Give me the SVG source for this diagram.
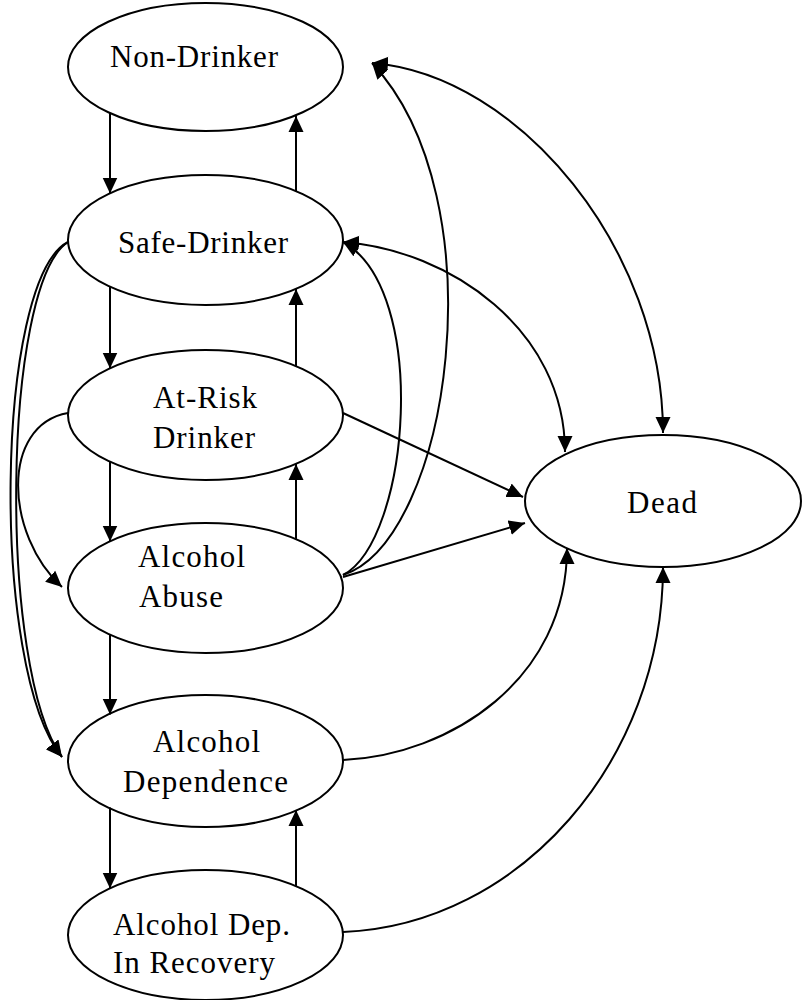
<svg xmlns="http://www.w3.org/2000/svg" width="802" height="1000" viewBox="0 0 802 1000">
<style>
.node ellipse{fill:#fff;stroke:#000;stroke-width:2}
.node text{font-family:"Liberation Serif","Times New Roman",serif;font-size:31px;fill:#000}
.edges path,.edges line{fill:none;stroke:#000;stroke-width:2}
.a{marker-end:url(#arr)}
.b{marker-end:url(#arr);marker-start:url(#arr)}
</style>
<defs>
<marker id="arr" viewBox="0 0 16 16" refX="16" refY="8" markerWidth="16" markerHeight="16" markerUnits="userSpaceOnUse" orient="auto-start-reverse">
<path d="M0,0.5 L16,8 L0,15.5 z" fill="#000"/>
</marker>
</defs>
<rect width="802" height="1000" fill="#fff"/>
<g id="nonDrinker" class="node"><ellipse cx="205.5" cy="67" rx="137.5" ry="64"/><text x="110" y="67" textLength="168" lengthAdjust="spacing">Non-Drinker</text></g>
<g id="safeDrinker" class="node"><ellipse cx="205.5" cy="240" rx="137.5" ry="65"/><text x="118" y="253" textLength="170" lengthAdjust="spacing">Safe-Drinker</text></g>
<g id="atRisk" class="node"><ellipse cx="205.5" cy="415" rx="137.5" ry="65"/><text x="153" y="408" textLength="104" lengthAdjust="spacing">At-Risk</text><text x="153" y="448" textLength="102" lengthAdjust="spacing">Drinker</text></g>
<g id="abuse" class="node"><ellipse cx="205.5" cy="588" rx="137.5" ry="65"/><text x="138" y="567" textLength="107" lengthAdjust="spacing">Alcohol</text><text x="139" y="607" textLength="84" lengthAdjust="spacing">Abuse</text></g>
<g id="dependence" class="node"><ellipse cx="205.5" cy="761" rx="137.5" ry="66"/><text x="153" y="752" textLength="107" lengthAdjust="spacing">Alcohol</text><text x="123" y="792" textLength="165" lengthAdjust="spacing">Dependence</text></g>
<g id="recovery" class="node"><ellipse cx="205.5" cy="935" rx="137.5" ry="65"/><text x="113" y="935" textLength="177" lengthAdjust="spacing">Alcohol Dep.</text><text x="113" y="973" textLength="162" lengthAdjust="spacing">In Recovery</text></g>
<g id="dead" class="node"><ellipse cx="663" cy="501" rx="138" ry="66"/><text x="627" y="513" textLength="70" lengthAdjust="spacing">Dead</text></g>
<g id="connectors" class="edges">
<line class="a" x1="110" y1="113" x2="110" y2="193.5"/>
<line class="a" x1="110" y1="286.5" x2="110" y2="368.5"/>
<line class="a" x1="110" y1="461.5" x2="110" y2="541.5"/>
<line class="a" x1="110" y1="634.5" x2="110" y2="714.5"/>
<line class="a" x1="110" y1="807.5" x2="110" y2="888.5"/>
<line class="a" x1="296" y1="191" x2="296" y2="116"/>
<line class="a" x1="296" y1="366" x2="296" y2="289"/>
<line class="a" x1="296" y1="539" x2="296" y2="464"/>
<line class="a" x1="296" y1="886" x2="296" y2="810"/>
<path class="a" d="M68,242 C-5,280 -10,670 62,757"/>
<path class="a" d="M68,242 C2,285 -2,670 62,757"/>
<path class="a" d="M68,413 C0,425 5,535 62,587"/>
<path class="b" d="M372,63 C520,75 663,250 663,433"/>
<path class="a" d="M343,575 C450,540 500,200 372,63"/>
<path class="b" d="M343,242 C450,250 565,330 565,452"/>
<path class="a" d="M343,575 C410,540 430,290 343,242"/>
<line class="a" x1="343" y1="413" x2="523" y2="497"/>
<line class="a" x1="343" y1="577" x2="525" y2="523"/>
<path class="a" d="M343,760 C450,755 567,680 567,548"/>
<path class="a" d="M343,932 C520,925 663,760 663,567"/>
</g>
</svg>
